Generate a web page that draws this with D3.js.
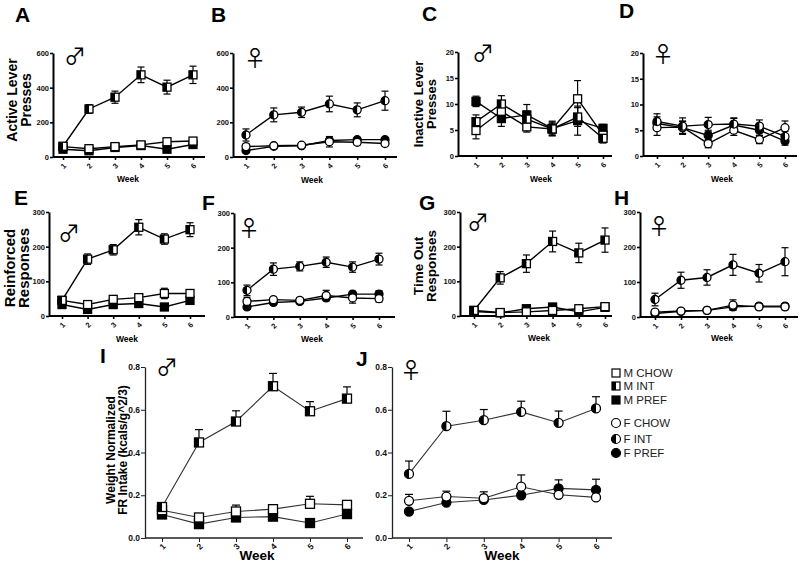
<!DOCTYPE html>
<html><head><meta charset="utf-8">
<script src="https://cdn.jsdelivr.net/npm/d3@7"></script>
<style>
body{margin:0;background:#fff}
svg{display:block;opacity:0.999}
text{font-family:"Liberation Sans",Arial,sans-serif}
text.sym{font-family:"Noto Sans CJK JP","DejaVu Sans",sans-serif;font-weight:400}
</style>
</head><body>
<svg id="chart" width="800" height="562"></svg>
<script>
// ---------- data ----------
const weeks = [1,2,3,4,5,6];
const ticks600 = [0,200,400,600];
const ticks20 = [0,5,10,15,20];
const ticks300 = [0,100,200,300];
const ticks08 = [0,0.2,0.4,0.6,0.8];
const legendLabels = ["M CHOW","M INT","M PREF","F CHOW","F INT","F PREF"];

// A: male active lever presses
const aChow = [60,48,60,70,88,92],   aChowErr = [10,8,8,10,12,12];
const aInt  = [62,277,345,474,403,474], aIntErr = [10,25,35,45,40,50];
const aPref = [45,36,55,66,45,72],   aPrefErr = [8,6,6,8,8,10];
// B: female active lever presses
const bChow = [60,65,68,88,85,78],   bChowErr = [15,8,8,30,15,12];
const bInt  = [127,243,258,306,272,325], bIntErr = [35,40,30,45,40,55];
const bPref = [37,62,65,95,100,100], bPrefErr = [8,8,8,12,12,12];
// C: male inactive lever presses
const cChow = [4.9,8.6,5.6,5.2,11.0,4.0], cChowErr = [1.6,1.5,1.0,1.0,3.5,1.0];
const cInt  = [6.6,10.0,7.1,5.2,7.5,3.4], cIntErr  = [1.3,1.6,1.5,1.3,1.8,0.9];
const cPref = [10.5,7.2,7.9,5.3,6.8,5.3], cPrefErr = [1.0,1.5,2.0,1.4,2.8,0.8];
// D: female inactive lever presses
const dChow = [5.5,5.6,2.4,5.0,3.2,5.5], dChowErr = [1.5,1.2,0.8,1.0,0.8,1.3];
const dInt  = [6.7,5.8,6.1,6.2,5.8,3.8], dIntErr  = [1.5,1.6,1.4,1.2,1.2,1.0];
const dPref = [6.3,5.5,4.0,6.0,5.0,2.9], dPrefErr = [1.3,1.2,1.0,1.3,1.0,0.8];
// E: male reinforced responses
const eChow = [45,33,48,53,65,65],   eChowErr = [8,6,6,8,15,10];
const eInt  = [45,164,191,256,222,249], eIntErr = [6,15,15,22,15,20];
const ePref = [33,19,33,36,26,45],   ePrefErr = [5,4,5,5,5,8];
// F: female reinforced responses
const fChow = [45,50,48,62,55,53],   fChowErr = [12,8,8,15,15,10];
const fInt  = [77,138,146,158,144,167], fIntErr = [15,18,13,15,15,17];
const fPref = [29,42,45,55,66,66],   fPrefErr = [5,6,6,6,8,10];
// G: male time out responses
const gChow = [16,10,12,16,21,27],   gChowErr = [5,4,4,5,5,5];
const gInt  = [16,110,151,215,182,219], gIntErr = [5,18,25,30,28,35];
const gPref = [13,9,21,26,12,25],    gPrefErr = [4,4,5,5,5,5];
// H: female time out responses
const hChow = [14,17,19,34,29,29],   hChowErr = [5,5,5,15,8,8];
const hInt  = [50,105,113,149,125,158], hIntErr = [18,23,22,30,25,40];
const hPref = [10,16,19,29,31,31],   hPrefErr = [3,4,4,6,6,6];
// I: male weight-normalized FR intake
const iChow = [0.13,0.096,0.124,0.135,0.16,0.155], iChowErr = [0.02,0.01,0.03,0.02,0.035,0.01];
const iInt  = [0.145,0.447,0.545,0.71,0.593,0.652], iIntErr = [0.015,0.06,0.05,0.06,0.045,0.055];
const iPref = [0.11,0.065,0.096,0.10,0.07,0.112],  iPrefErr = [0.01,0.01,0.01,0.01,0.01,0.01];
// J: female weight-normalized FR intake
const jChow = [0.174,0.194,0.186,0.24,0.202,0.19], jChowErr = [0.03,0.025,0.03,0.055,0.03,0.045];
const jInt  = [0.30,0.523,0.551,0.59,0.539,0.606], jIntErr = [0.06,0.07,0.05,0.05,0.055,0.055];
const jPref = [0.124,0.166,0.178,0.20,0.232,0.225], jPrefErr = [0.01,0.01,0.01,0.01,0.04,0.05];

// ---------- layout ----------
const panels = [
 {L:"A",lx:15,ly:22, ax:53,top:53,bot:157,x1:63,x6:193,xEnd:205,max:600,ticks:ticks600,shape:"sq",
  s:[aPref,aChow,aInt],e:[aPrefErr,aChowErr,aIntErr], yl:["Active Lever","Presses"],ylx:[17,31],yly:100,yfs:14,
  sym:"♂",sx:75,sy:54, wx:128,wy:182, big:false, fmt:d3.format("d")},
 {L:"B",lx:211,ly:22, ax:233,top:53,bot:157,x1:246,x6:385,xEnd:397,max:600,ticks:ticks600,shape:"ci",
  s:[bPref,bChow,bInt],e:[bPrefErr,bChowErr,bIntErr], yl:null,
  sym:"♀",sx:255,sy:56, wx:312,wy:183, big:false, fmt:d3.format("d")},
 {L:"C",lx:422,ly:21, ax:458,top:52,bot:156,x1:476,x6:603,xEnd:612,max:20,ticks:ticks20,shape:"sq",
  s:[cPref,cChow,cInt],e:[cPrefErr,cChowErr,cIntErr], yl:["Inactive Lever","Presses"],ylx:[423,436],yly:104,yfs:13,
  sym:"♂",sx:483,sy:51, wx:541,wy:182, big:false, fmt:d3.format("d")},
 {L:"D",lx:619,ly:18, ax:643,top:53,bot:156,x1:657,x6:785,xEnd:797,max:20,ticks:ticks20,shape:"ci",
  s:[dPref,dChow,dInt],e:[dPrefErr,dChowErr,dIntErr], yl:null,
  sym:"♀",sx:663,sy:52, wx:722,wy:182, big:false, fmt:d3.format("d")},
 {L:"E",lx:14,ly:205, ax:49,top:212,bot:316,x1:62,x6:190,xEnd:205,max:300,ticks:ticks300,shape:"sq",
  s:[ePref,eChow,eInt],e:[ePrefErr,eChowErr,eIntErr], yl:["Reinforced","Responses"],ylx:[15,29],yly:268,yfs:15,
  sym:"♂",sx:69,sy:231, wx:127,wy:342, big:false, fmt:d3.format("d")},
 {L:"F",lx:202,ly:210, ax:234,top:213,bot:317,x1:247,x6:379,xEnd:395,max:300,ticks:ticks300,shape:"ci",
  s:[fPref,fChow,fInt],e:[fPrefErr,fChowErr,fIntErr], yl:null,
  sym:"♀",sx:249,sy:226, wx:312,wy:342, big:false, fmt:d3.format("d")},
 {L:"G",lx:419,ly:210, ax:460,top:212,bot:316,x1:474,x6:605,xEnd:612,max:300,ticks:ticks300,shape:"sq",
  s:[gPref,gChow,gInt],e:[gPrefErr,gChowErr,gIntErr], yl:["Time Out","Responses"],ylx:[423,436],yly:266,yfs:13.5,
  sym:"♂",sx:478,sy:220, wx:539,wy:341, big:false, fmt:d3.format("d")},
 {L:"H",lx:614,ly:205, ax:640,top:212,bot:317,x1:655,x6:785,xEnd:798,max:300,ticks:ticks300,shape:"ci",
  s:[hPref,hChow,hInt],e:[hPrefErr,hChowErr,hIntErr], yl:null,
  sym:"♀",sx:659,sy:224, wx:722,wy:341, big:false, fmt:d3.format("d")},
 {L:"I",lx:100,ly:363, ax:145,top:367,bot:538,x1:162,x6:347,xEnd:363,max:0.8,ticks:ticks08,shape:"sq",
  s:[iPref,iChow,iInt],e:[iPrefErr,iChowErr,iIntErr], yl:["Weight Normalized","FR Intake (kcals/g^2/3)"],ylx:[115,127],yly:450,yfs:12,
  sym:"♂",sx:167,sy:365, wx:257,wy:560, big:true, fmt:d3.format(".1f")},
 {L:"J",lx:356,ly:366, ax:392,top:367,bot:538,x1:409,x6:596,xEnd:612,max:0.8,ticks:ticks08,shape:"ci",
  s:[jPref,jChow,jInt],e:[jPrefErr,jChowErr,jIntErr], yl:null,
  sym:"♀",sx:411,sy:368, wx:502,wy:560, big:true, fmt:d3.format(".1f")}
];
const fills = ["black","white","half"]; // PREF, CHOW, INT

const svg = d3.select("#chart");

function drawMarker(g, shape, fill, cx, cy, sz, sw) {
  if (shape === "sq") {
    g.append("rect").attr("x",cx-sz/2).attr("y",cy-sz/2).attr("width",sz).attr("height",sz)
      .attr("fill", fill==="black"?"black":"white").attr("stroke","black").attr("stroke-width",sw);
    if (fill==="half") g.append("rect").attr("x",cx-sz/2).attr("y",cy-sz/2).attr("width",sz/2).attr("height",sz).attr("fill","black");
  } else {
    const r = sz/2;
    g.append("circle").attr("cx",cx).attr("cy",cy).attr("r",r)
      .attr("fill", fill==="black"?"black":"white").attr("stroke","black").attr("stroke-width",sw);
    if (fill==="half") g.append("path").attr("d",`M${cx},${cy-r}A${r},${r} 0 0 0 ${cx},${cy+r}Z`).attr("fill","black");
  }
}

panels.forEach(p => {
  const g = svg.append("g");
  const y = d3.scaleLinear().domain([0,p.max]).range([p.bot,p.top]);
  const x = d3.scaleLinear().domain([1,6]).range([p.x1,p.x6]);
  const axW = p.big ? 1.3 : 2;
  const axCol = p.big ? "#222" : "black";
  const tfs = p.big ? 8.5 : 7.5;

  // y axis
  const ya = g.append("g").attr("transform",`translate(${p.ax},0)`)
    .call(d3.axisLeft(y).tickValues(p.ticks).tickSize(p.big?4:3).tickSizeOuter(0).tickPadding(1).tickFormat(p.fmt));
  ya.select(".domain").attr("stroke",axCol).attr("stroke-width",axW);
  ya.selectAll(".tick line").attr("stroke",axCol).attr("stroke-width",axW*0.8);
  ya.selectAll(".tick text").attr("font-size",tfs).attr("font-weight","bold").attr("fill","#111");

  // x axis
  const xa = g.append("g").attr("transform",`translate(0,${p.bot})`)
    .call(d3.axisBottom(x).tickValues(weeks).tickSize(p.big?4:3).tickSizeOuter(0).tickPadding(3).tickFormat(d3.format("d")));
  xa.select(".domain").remove();
  xa.selectAll(".tick line").attr("stroke",axCol).attr("stroke-width",axW*0.8);
  xa.selectAll(".tick text").attr("font-size",tfs).attr("font-weight","bold").attr("fill","#111")
    .attr("text-anchor","middle").attr("dy",null).attr("y",null)
    .attr("transform",`translate(0,${p.big?8.5:9}) rotate(-45)`).attr("dominant-baseline","central");
  g.append("line").attr("x1",p.ax).attr("x2",p.xEnd).attr("y1",p.bot).attr("y2",p.bot)
    .attr("stroke",axCol).attr("stroke-width",axW);

  // lines
  const lineGen = d3.line().x((d,i)=>x(weeks[i])).y(d=>y(d));
  const lCol = p.big ? "#333" : "black";
  const lW = p.big ? 1.1 : 1.4;
  p.s.forEach(vals => {
    g.append("path").attr("d",lineGen(vals)).attr("fill","none").attr("stroke",lCol).attr("stroke-width",lW);
  });
  // error bars
  const cap = p.big ? 4 : 3.5;
  p.s.forEach((vals,si) => {
    vals.forEach((v,i) => {
      const err = p.e[si][i];
      const cx = x(weeks[i]);
      const yTop = y(v+err), yBot = p.big ? y(v) : y(Math.max(0,v-err));
      g.append("line").attr("x1",cx).attr("x2",cx).attr("y1",yTop).attr("y2",yBot).attr("stroke","black").attr("stroke-width",1.2);
      g.append("line").attr("x1",cx-cap).attr("x2",cx+cap).attr("y1",yTop).attr("y2",yTop).attr("stroke","black").attr("stroke-width",1.2);
      if (!p.big) g.append("line").attr("x1",cx-cap).attr("x2",cx+cap).attr("y1",yBot).attr("y2",yBot).attr("stroke","black").attr("stroke-width",1.2);
    });
  });
  // markers
  const msz = p.big ? 9 : 8;
  p.s.forEach((vals,si) => {
    vals.forEach((v,i) => drawMarker(g, p.shape, fills[si], x(weeks[i]), y(v), msz, 1.3));
  });

  // panel letter
  g.append("text").attr("x",p.lx).attr("y",p.ly).attr("font-size",21).attr("font-weight","bold").text(p.L);
  // sex symbol
  g.append("text").attr("class","sym").attr("x",p.sx).attr("y",p.sy).attr("text-anchor","middle").attr("dominant-baseline","central")
    .attr("font-size",22).attr("fill","black").text(p.sym + "\uFE0E");
  // week label
  g.append("text").attr("x",p.wx).attr("y",p.wy).attr("text-anchor","middle").attr("font-weight","bold")
    .attr("font-size",p.big?13.5:8.5).text("Week");
  // y label
  if (p.yl) {
    p.yl.forEach((t,k) => {
      g.append("text").attr("transform",`translate(${p.ylx[k]},${p.yly}) rotate(-90)`)
        .attr("text-anchor","middle").attr("font-weight","bold").attr("font-size",p.yfs).text(t);
    });
  }
});

// legend
const legY = [373,386,400,423,439,453];
const legShapes = ["sq","sq","sq","ci","ci","ci"];
const legFills = ["white","half","black","white","half","black"];
const lg = svg.append("g");
legendLabels.forEach((t,i) => {
  drawMarker(lg, legShapes[i], legFills[i], 616, legY[i], legShapes[i]==="sq"?8:9, 1.2);
  lg.append("text").attr("x",623.5).attr("y",legY[i]).attr("dominant-baseline","central")
    .attr("font-size",11.5).attr("fill","#222").text(t);
});
</script>
</body></html>
